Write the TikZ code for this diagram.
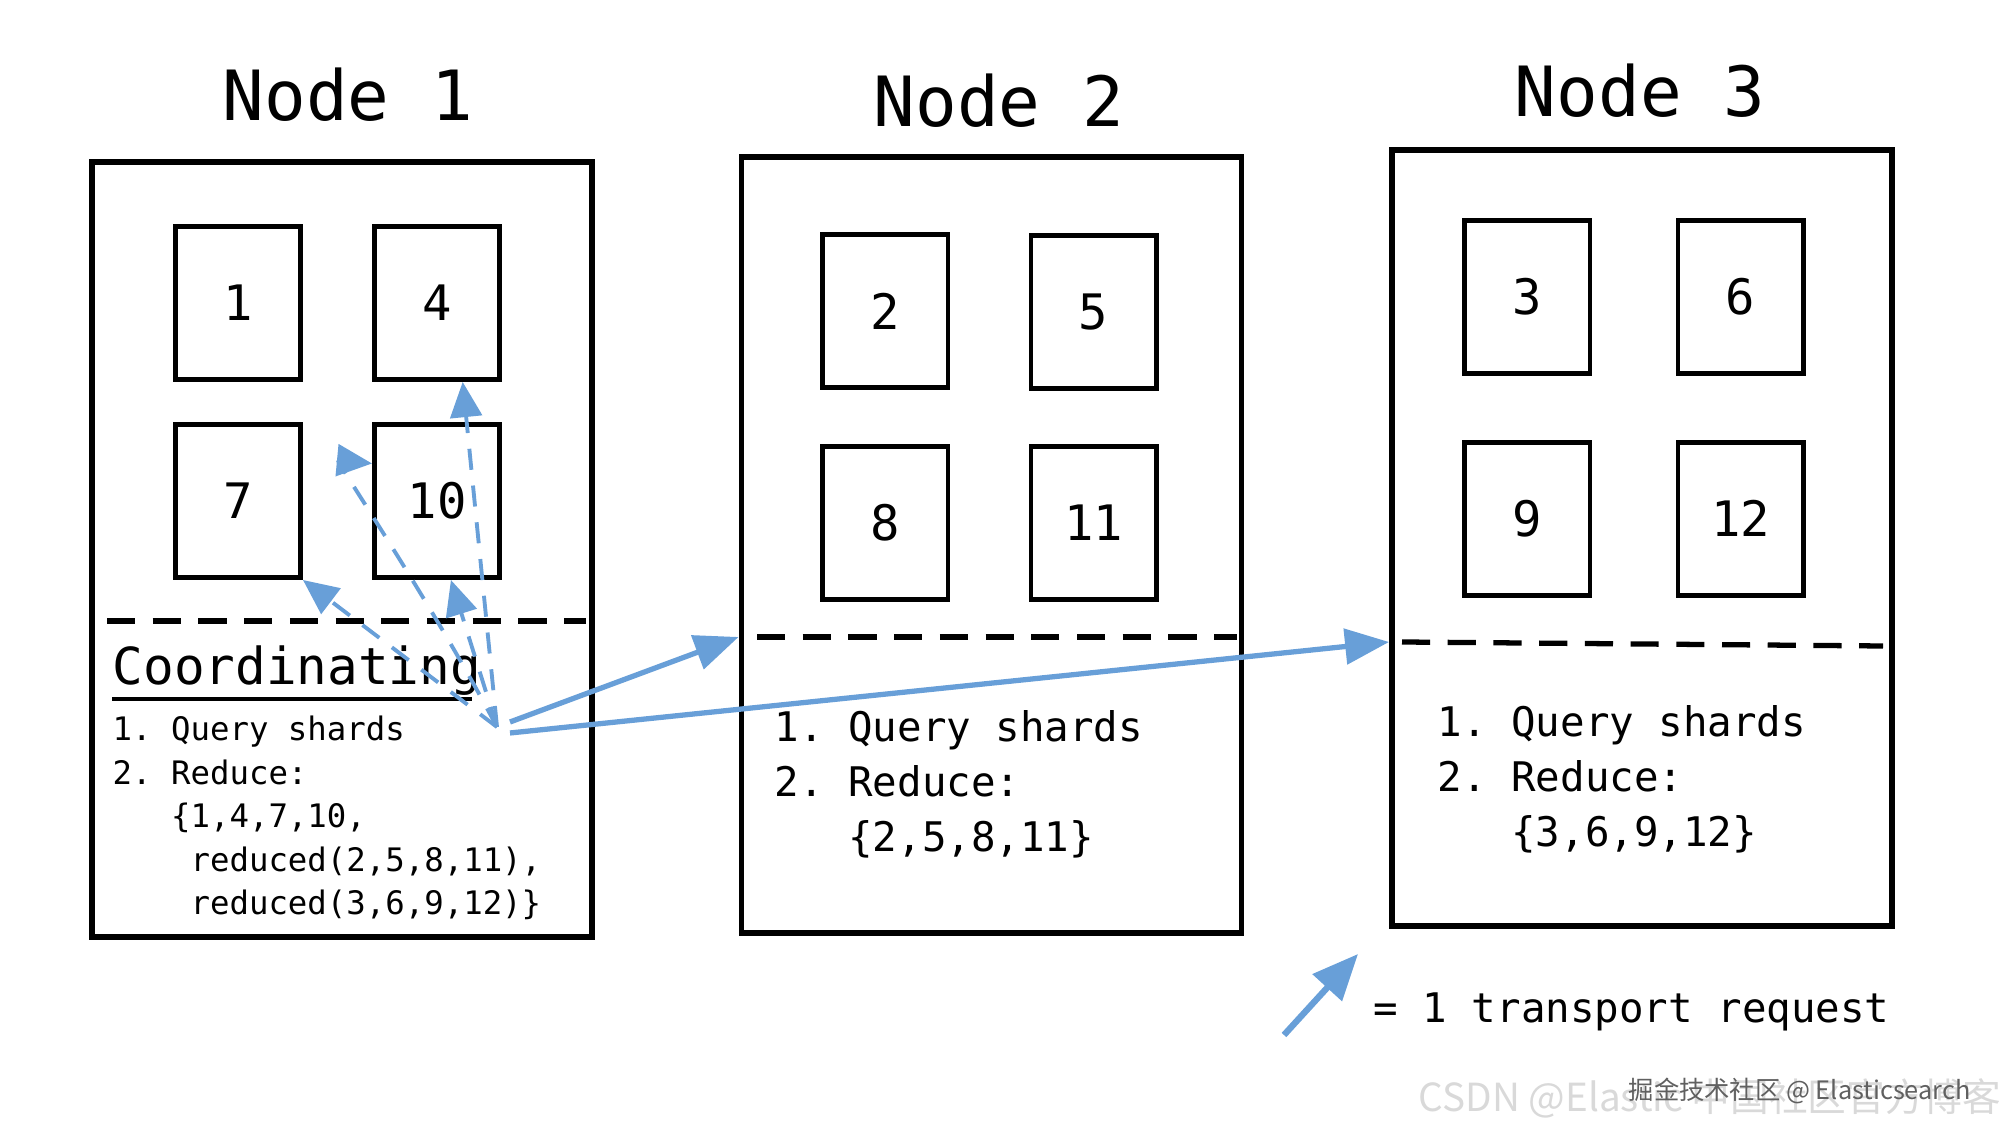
\documentclass[tikz,border=0pt]{standalone}
\usepackage{fontspec}
\setmainfont{DejaVu Sans Mono}
\newfontfamily\cjk{Noto Sans CJK SC}
\usetikzlibrary{matrix,positioning,arrows.meta,calc}
\definecolor{reqblue}{RGB}{104,159,216}
\frenchspacing

\tikzset{
  nodebox/.style={draw, line width=1.6pt, minimum width=5cm, minimum height=7.75cm, inner sep=0pt},
  nodetitle/.style={anchor=base, inner sep=0pt, font=\fontsize{19.7}{24}\selectfont},
  shards/.style={matrix of nodes, nodes={draw, line width=1.4pt, minimum width=1.25cm,
    minimum height=1.53cm, inner sep=0pt, font=\fontsize{13.9}{16}\selectfont}},
  divider/.style={line width=1.5pt, dash pattern=on 8pt off 5pt},
  smalltext/.style={anchor=base west, inner sep=0pt, font=\fontsize{9.2}{11}\selectfont},
  bigtext/.style={anchor=base west, inner sep=0pt, font=\fontsize{11.6}{14}\selectfont},
  req/.style={reqblue, line width=1.5pt, -{Triangle[length=12.5pt,width=10pt]}},
  localreq/.style={reqblue, line width=1.1pt, dash pattern=on 6pt off 4.5pt, -{Triangle[length=10pt,width=9pt]}},
}

\begin{document}
\begin{tikzpicture}[x=0.01cm, y=-0.01cm]
\useasboundingbox (0,0) rectangle (1999,1134);

\node[nodebox] (node1) at (342,549.5) {};
\node[nodebox] (node2) at (991.5,545) {};
\node[nodebox] (node3) at (1642,538) {};
\node[nodetitle] (title1) at (348,121) {Node 1};
\node[nodetitle] (title2) at (999,127) {Node 2};
\node[nodetitle] (title3) at (1640,117) {Node 3};

\matrix[shards, column sep=0.69cm, row sep=0.40cm] (n1m) at (337.5,402) {1 & 4 \\ 7 & 10 \\};
\matrix[shards, column sep=0.78cm, row sep=0.53cm] (n2m) at (989.5,417) {2 & 5 \\ 8 & 11 \\};
\matrix[shards, column sep=0.83cm, row sep=0.64cm] (n3m) at (1634,408) {3 & 6 \\ 9 & 12 \\};

\coordinate (d1a) at (107,621);  \coordinate (d1b) at (586,621);
\coordinate (d2a) at (757,637);  \coordinate (d2b) at (1237,637);
\coordinate (d3a) at (1402,642); \coordinate (d3b) at (1883,646);
\draw[divider] (d1a) -- (d1b);
\draw[divider] (d2a) -- (d2b);
\draw[divider] (d3a) -- (d3b);

\node[anchor=base west, inner sep=0pt, font=\fontsize{14.5}{17}\selectfont] (coordlabel) at (112,685) {Coordinating};
\draw[line width=1.4pt] ($(coordlabel.base west)+(0,14)$) -- ($(coordlabel.base east)+(-10,14)$);

\foreach \txt [count=\i from 0] in {1. Query shards, 2. Reduce:, {\phantom{123}\{1,4,7,10,},
    {\phantom{1234}reduced(2,5,8,11),}, {\phantom{1234}reduced(3,6,9,12)\}}}
  \node[smalltext] (list1-\i) at (112,741+43.5*\i) {\txt};
\foreach \txt [count=\i from 0] in {1. Query shards, 2. Reduce:, {\phantom{123}\{2,5,8,11\}}}
  \node[bigtext] (list2-\i) at (774,742+55*\i) {\txt};
\foreach \txt [count=\i from 0] in {1. Query shards, 2. Reduce:, {\phantom{123}\{3,6,9,12\}}}
  \node[bigtext] (list3-\i) at (1437,737+55*\i) {\txt};

\coordinate (coord) at (497,727);
\coordinate (coordr) at (510,722);
\coordinate (coordr2) at (510,733);
\draw[localreq] (coord) -- (n1m-2-1.south east);
\draw[localreq] (coord) .. controls (430,600) and (335,460) .. (n1m-2-2.150);
\draw[localreq] (coord) -- (n1m-2-2.-80);
\draw[localreq] (coord) -- (n1m-1-2.-72);
\draw[req] (coordr) -- (node2.west |- d2a);
\draw[req] (coordr2) -- (node3.west |- d3a);

\coordinate (legtail) at (1284,1035);
\coordinate (legtip) at (1358,954);
\draw[req, line width=1.8pt, -{Triangle[length=13pt,width=11pt]}] (legtail) -- (legtip);
\node[bigtext] (legend) at (1373,1023) {= 1 transport request};

\node[anchor=base west, inner sep=0pt, text=gray!30, font=\cjk\fontsize{11}{13}\selectfont] (wm1) at (1418,1112) {CSDN @Elastic 中国社区官方博客};
\node[anchor=base west, inner sep=0pt, text=gray!75!black, font=\cjk\fontsize{7.2}{9}\selectfont] (wm2) at (1628,1100) {掘金技术社区 @ Elasticsearch};
\end{tikzpicture}
\end{document}
